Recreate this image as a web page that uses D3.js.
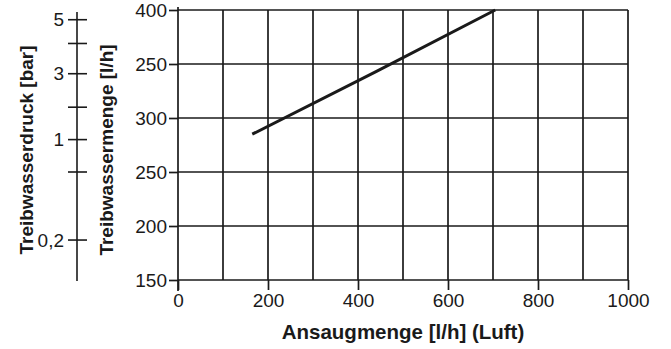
<!DOCTYPE html>
<html><head><meta charset="utf-8">
<script src="https://cdn.jsdelivr.net/npm/d3@7"></script>
<style>body{margin:0;background:#fff}svg{display:block}text{font-family:"Liberation Sans",Arial,sans-serif;fill:#1a1a1a}</style>
</head><body>
<script>
const xTicks = [0, 200, 400, 600, 800, 1000];
const xGrid = [100, 200, 300, 400, 500, 600, 700, 800, 900, 1000];
const yTicks = [150, 200, 250, 300, 350, 400];
const yTickLabels = ["150", "200", "250", "300", "250", "400"];
const lineX = [165, 440, 705];
const lineY = [285, 343, 400];
const pressureTicks = ["5", "", "3", "", "1", "", "0,2"];
const pressureAtFlow = [391, 369, 341, 310, 280, 250, 187];

const W = 671, H = 349;
const svg = d3.select("body").append("svg").attr("width", W).attr("height", H);
const x = d3.scaleLinear().domain([0, 1000]).range([178, 628]);
const y = d3.scaleLinear().domain([150, 400]).range([280, 10]);
const ink = "#1a1a1a";

// grid
svg.append("g").selectAll("line").data(xGrid).join("line")
  .attr("x1", d => x(d)).attr("x2", d => x(d)).attr("y1", y(400)).attr("y2", y(150))
  .attr("stroke", ink).attr("stroke-width", 1.7);
svg.append("g").selectAll("line").data(yTicks).join("line")
  .attr("x1", x(0)).attr("x2", x(1000)).attr("y1", d => y(d)).attr("y2", d => y(d))
  .attr("stroke", ink).attr("stroke-width", 1.7);

// x axis
const xAxis = svg.append("g").attr("transform", `translate(0,${y(150)})`)
  .call(d3.axisBottom(x).tickValues(xTicks).tickSize(10).tickPadding(4).tickFormat(d3.format("d")));
xAxis.select(".domain").remove();
xAxis.selectAll("line").attr("stroke", ink).attr("stroke-width", 1.7);
xAxis.selectAll("text").attr("font-size", 19).attr("fill", ink);

// y axis
const yAxis = svg.append("g").attr("transform", `translate(${x(0)},0)`)
  .call(d3.axisLeft(y).tickValues(yTicks).tickSize(9).tickPadding(2).tickFormat((d, i) => yTickLabels[i]));
yAxis.select(".domain").attr("d", `M0,${y(400) - 3}V${y(150) + 11}`).attr("stroke", ink).attr("stroke-width", 1.7);
yAxis.selectAll("line").attr("stroke", ink).attr("stroke-width", 1.7);
yAxis.selectAll("text").attr("font-size", 19).attr("fill", ink);

// data line
svg.append("path").datum(lineX.map((v, i) => [v, lineY[i]]))
  .attr("d", d3.line().x(d => x(d[0])).y(d => y(d[1])))
  .attr("fill", "none").attr("stroke", ink).attr("stroke-width", 3);

// pressure axis
const px = 77;
const pg = svg.append("g");
pg.append("line").attr("x1", px).attr("x2", px).attr("y1", 12).attr("y2", 281)
  .attr("stroke", ink).attr("stroke-width", 1.6);
pg.selectAll("line.t").data(pressureAtFlow).join("line").attr("class", "t")
  .attr("x1", px - 9).attr("x2", px + 10).attr("y1", d => y(d)).attr("y2", d => y(d))
  .attr("stroke", ink).attr("stroke-width", 1.6);
pg.selectAll("text").data(pressureAtFlow).join("text")
  .attr("x", px - 13).attr("y", d => y(d)).attr("dy", "0.35em")
  .attr("text-anchor", "end").attr("font-size", 19)
  .text((d, i) => pressureTicks[i]);

// titles
svg.append("text").attr("x", 403).attr("y", 339).attr("text-anchor", "middle")
  .attr("font-size", 20.5).attr("font-weight", "bold").text("Ansaugmenge [l/h] (Luft)");
svg.append("text").attr("transform", "translate(33,150) rotate(-90)").attr("text-anchor", "middle")
  .attr("font-size", 19).attr("font-weight", "bold").text("Treibwasserdruck [bar]");
svg.append("text").attr("transform", "translate(113,150) rotate(-90)").attr("text-anchor", "middle")
  .attr("font-size", 19).attr("font-weight", "bold").text("Treibwassermenge [l/h]");
</script>
</body></html>
